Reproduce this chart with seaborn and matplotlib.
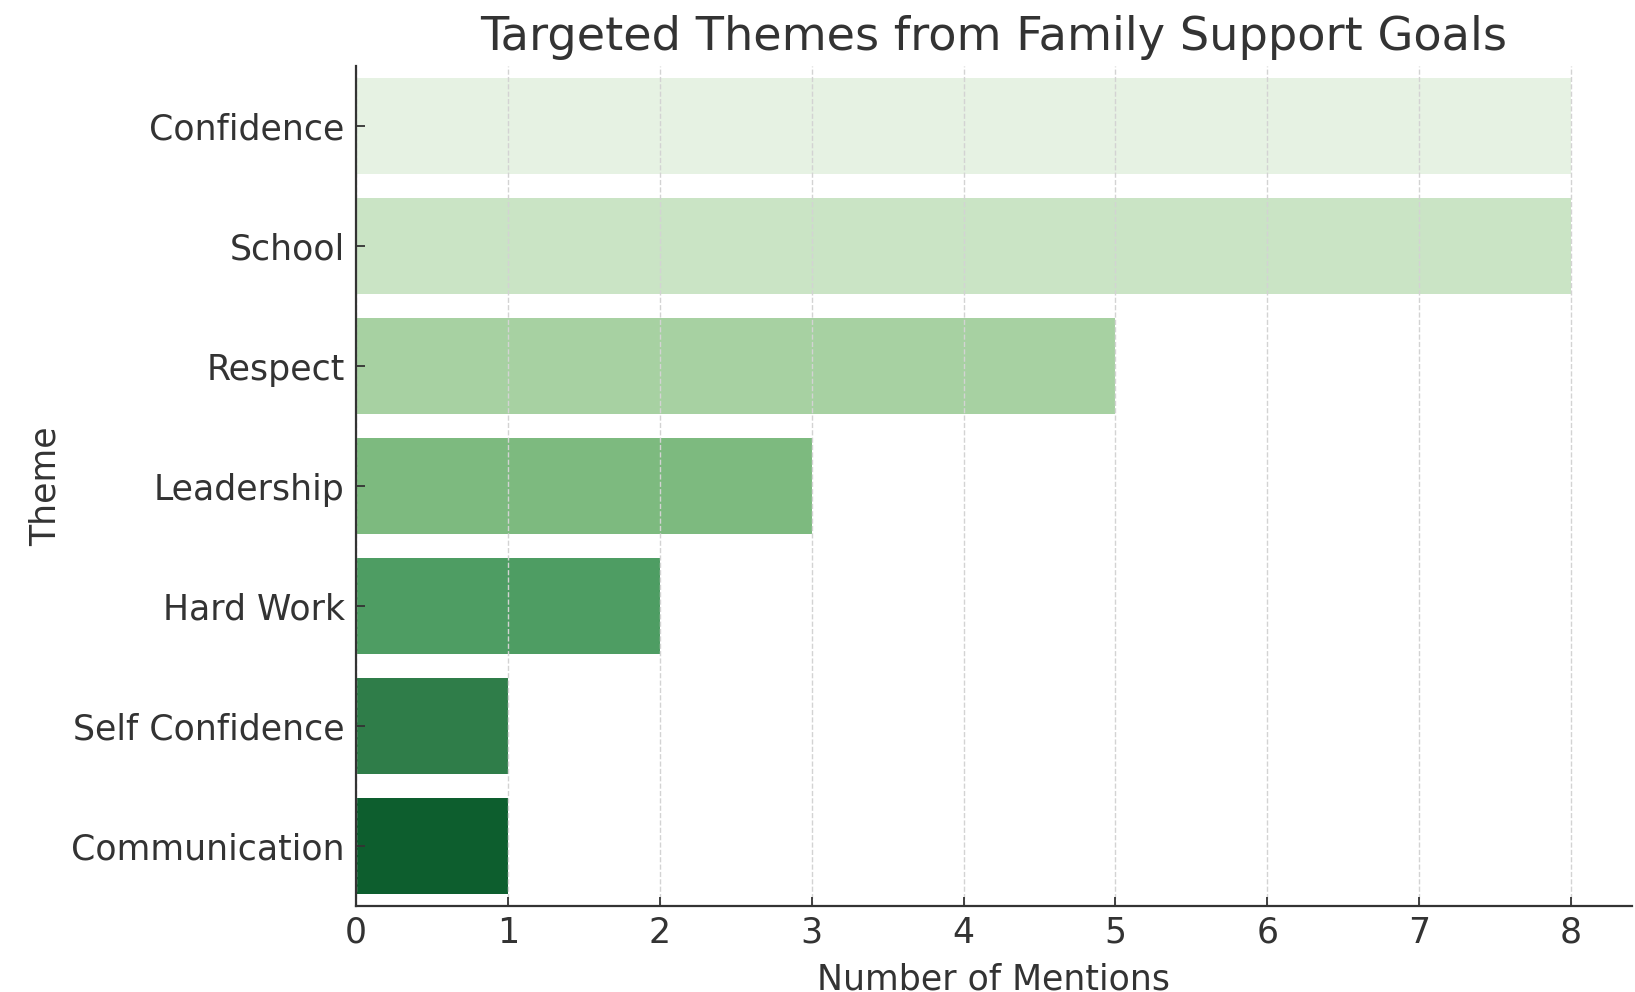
import matplotlib
matplotlib.use("Agg")
import matplotlib.pyplot as plt
import seaborn as sns
import pandas as pd

themes = ["Confidence", "School", "Respect", "Leadership", "Hard Work",
          "Self Confidence", "Communication"]
mentions = [8, 8, 5, 3, 2, 1, 1]

df = pd.DataFrame({"Theme": themes, "Number of Mentions": mentions})

text_color = "#333333"
plt.rcParams["font.family"] = ["DejaVu Sans"]
plt.rcParams["text.color"] = text_color
plt.rcParams["axes.labelcolor"] = text_color
plt.rcParams["xtick.color"] = text_color
plt.rcParams["ytick.color"] = text_color

fig = plt.figure(figsize=(16.35, 9.92), dpi=100)
ax = fig.add_axes([0.2177, 0.0867, 0.7804, 0.8463])

sns.barplot(data=df, x="Number of Mentions", y="Theme", hue="Theme",
            palette="Greens", legend=False, ax=ax, width=0.8)

ax.set_title("Targeted Themes from Family Support Goals", fontsize=33.3,
             pad=12, color=text_color)
ax.set_xlabel("Number of Mentions", fontsize=25, labelpad=9)
ax.set_ylabel("Theme", fontsize=25, labelpad=6)
ax.tick_params(axis="both", labelsize=25, direction="in", length=6.5,
               width=1.3)
ax.tick_params(axis="y", pad=8)
ax.tick_params(axis="x", pad=7)

ax.grid(axis="x", linestyle="--", color="#d3d3d3", linewidth=1.0)
ax.grid(axis="y", visible=False)
ax.set_xlim(0, 8.4)

sns.despine(ax=ax)
for side in ["left", "bottom"]:
    ax.spines[side].set_color(text_color)
    ax.spines[side].set_linewidth(1.6)

fig.savefig("out.png", dpi=100)
